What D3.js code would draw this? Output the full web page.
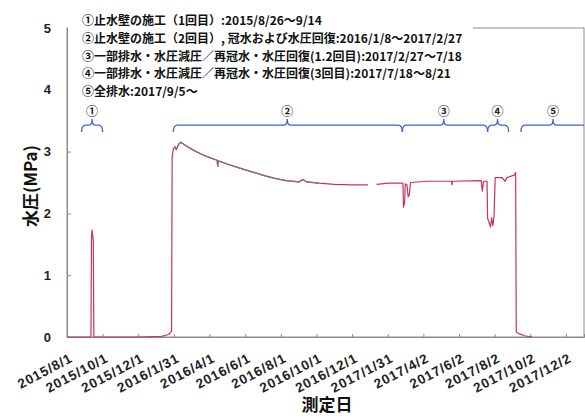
<!DOCTYPE html>
<html>
<head>
<meta charset="utf-8">
<script src="https://cdn.jsdelivr.net/npm/d3@7"></script>
<style>
  body { margin: 0; background: #fff; }
  text { font-family: "Liberation Sans", Arial, sans-serif; }
  .jp { font-family: "Noto Sans CJK JP", "Noto Sans", sans-serif; }
</style>
</head>
<body>
<svg id="chart" width="585" height="418"></svg>
<script>
// x-axis tick dates (61-day spacing)
const tickLabels = ["2015/8/1", "2015/10/1", "2015/12/1", "2016/1/31", "2016/4/1", "2016/6/1",
  "2016/8/1", "2016/10/1", "2016/12/1", "2017/1/31", "2017/4/2", "2017/6/2", "2017/8/2",
  "2017/10/2", "2017/12/2"];
const yTicks = [0, 1, 2, 3, 4, 5];

// water pressure record (MPa); null marks a gap in logging
const gaugeDates = ["2015/8/1", "2015/9/11", "2015/9/12", "2015/9/13", "2015/9/15", "2015/9/16",
  "2015/12/1", "2016/1/10", "2016/1/22", "2016/1/27", "2016/1/28", "2016/1/30", "2016/2/2",
  "2016/2/4", "2016/2/8", "2016/2/12", "2016/2/20", "2016/3/5", "2016/3/20", "2016/4/5",
  "2016/4/14", "2016/4/15", "2016/4/16", "2016/5/1", "2016/5/20", "2016/6/10", "2016/7/1",
  "2016/7/20", "2016/8/10", "2016/9/1", "2016/9/8", "2016/9/14", "2016/10/5", "2016/11/1",
  "2016/12/1", "2016/12/28", "2017/1/2", "2017/1/12", "2017/2/1", "2017/2/26", "2017/2/27",
  "2017/3/1", "2017/3/2", "2017/3/5", "2017/3/7", "2017/3/9", "2017/3/11", "2017/4/10",
  "2017/5/20", "2017/5/21", "2017/5/22", "2017/7/10", "2017/7/12", "2017/7/14", "2017/7/20",
  "2017/7/21", "2017/7/24", "2017/7/26", "2017/7/28", "2017/7/30", "2017/8/1", "2017/8/3",
  "2017/8/15", "2017/8/20", "2017/8/23", "2017/9/5", "2017/9/7", "2017/9/8", "2017/9/14",
  "2017/9/22", "2017/10/5"];
const gaugeValues = [0, 0, 1.62, 1.73, 1.56, 0,
  0, 0.01, 0.04, 0.09, 2.92, 3.04, 3.08,
  3.03, 3.12, 3.15, 3.10, 3.02, 2.95, 2.89,
  2.86, 2.76, 2.85, 2.80, 2.74, 2.68, 2.62,
  2.57, 2.53, 2.51, 2.55, 2.51, 2.49, 2.47,
  2.46, 2.46, null, 2.47, 2.49, 2.49, 2.10,
  2.18, 2.48, 2.46, 2.27, 2.30, 2.50, 2.52,
  2.52, 2.46, 2.52, 2.53, 2.36, 2.52, 2.52,
  1.92, 1.84, 1.78, 1.93, 1.80, 1.96, 2.58,
  2.58, 2.52, 2.58, 2.62, 2.66, 0.08, 0.05,
  0.02, 0];

// second logger, running alongside during 2016
const loggerDates = ["2016/2/2", "2016/2/4", "2016/2/8", "2016/2/12", "2016/2/20", "2016/3/5",
  "2016/3/20", "2016/4/5", "2016/4/14", "2016/4/15", "2016/4/16", "2016/5/1", "2016/5/20",
  "2016/6/10", "2016/7/1", "2016/7/20", "2016/8/10", "2016/9/1", "2016/9/8", "2016/9/14",
  "2016/10/5"];
const loggerValues = [3.08, 3.03, 3.12, 3.15, 3.10, 3.02,
  2.95, 2.89, 2.86, 2.76, 2.85, 2.80, 2.74,
  2.68, 2.62, 2.57, 2.53, 2.51, 2.55, 2.51,
  2.49];

// work periods shown as braces above the record
const periodNames = ["①", "②", "③", "④", "⑤"];
const periodStart = ["2015/8/26", "2016/1/30", "2017/2/25", "2017/7/21", "2017/9/16"];
const periodEnd   = ["2015/10/1", "2017/2/25", "2017/7/21", "2017/8/26", "2018/1/2"];
const periodMark  = ["2015/9/13", "2016/8/12", "2017/5/7", "2017/8/7", "2017/11/10"];

const legendLines = [
  "①止水壁の施工（1回目）:2015/8/26～9/14",
  "②止水壁の施工（2回目）, 冠水および水圧回復:2016/1/8～2017/2/27",
  "③一部排水・水圧減圧／再冠水・水圧回復(1.2回目):2017/2/27～7/18",
  "④一部排水・水圧減圧／再冠水・水圧回復(3回目):2017/7/18～8/21",
  "⑤全排水:2017/9/5～"
];

const parse = d3.timeParse("%Y/%m/%d");
const svg = d3.select("#chart");
const m = { left: 67, right: 584, top: 28, bottom: 337 };

const x = d3.scaleTime()
  .domain([parse("2015/8/1"), parse("2018/1/2")])
  .range([m.left, m.right]);
const y = d3.scaleLinear().domain([0, 5]).range([m.bottom, m.top]);

const frame = "#8c8c8c";

// plot frame
svg.append("rect")
  .attr("x", m.left).attr("y", m.top)
  .attr("width", m.right - m.left).attr("height", m.bottom - m.top)
  .attr("fill", "none").attr("stroke", frame).attr("stroke-width", 1);

// y axis
const yAxis = svg.append("g").attr("transform", `translate(${m.left},0)`)
  .call(d3.axisLeft(y).tickValues(yTicks).tickSize(-4).tickPadding(16).tickFormat(d3.format("d")));
yAxis.select(".domain").attr("stroke", frame);
yAxis.selectAll(".tick line").attr("stroke", frame);
yAxis.selectAll(".tick text").attr("font-size", 13).attr("font-weight", "bold").attr("fill", "#222")
  .attr("font-family", "Liberation Sans, Arial, sans-serif");

// x axis
const tickDates = tickLabels.map(parse);
const xAxis = svg.append("g").attr("transform", `translate(0,${m.bottom})`)
  .call(d3.axisBottom(x).tickValues(tickDates).tickSize(-3).tickFormat((d, i) => tickLabels[i]));
xAxis.select(".domain").attr("stroke", frame);
xAxis.selectAll(".tick line").attr("stroke", frame);
xAxis.selectAll(".tick text")
  .attr("font-size", 13.5).attr("font-weight", "bold").attr("fill", "#222")
  .attr("font-family", "Liberation Sans, Arial, sans-serif")
  .attr("letter-spacing", 0.9)
  .attr("text-anchor", "end")
  .attr("x", 0).attr("y", 0).attr("dy", 0)
  .attr("transform", "translate(6,24) rotate(-28)");

// pressure lines
const line = d3.line()
  .defined(d => d.v !== null)
  .x(d => x(d.t)).y(d => y(d.v));

const gauge = gaugeDates.map((d, i) => ({ t: parse(d), v: gaugeValues[i] }));
const logger = loggerDates.map((d, i) => ({ t: parse(d), v: loggerValues[i] }));

svg.append("path").datum(gauge)
  .attr("d", line).attr("fill", "none")
  .attr("stroke", "#cc3355").attr("stroke-width", 1.2).attr("stroke-linejoin", "round");
svg.append("path").datum(logger)
  .attr("d", line).attr("fill", "none")
  .attr("stroke", "#8a7070").attr("stroke-width", 1.2).attr("stroke-linejoin", "round");

// legend panel
svg.append("rect").attr("x", m.left + 1).attr("y", 8).attr("width", 405).attr("height", 90)
  .attr("fill", "#fff");
svg.append("g").selectAll("text").data(legendLines).join("text")
  .attr("class", "jp")
  .attr("x", 82).attr("y", (d, i) => 25 + i * 17.8)
  .attr("font-size", 12).attr("font-weight", "bold").attr("fill", "#111")
  .text(d => d);

// period braces
const braceY = y(3.43);
const braceColor = "#3f63d8";
const brace = svg.append("g");
periodNames.forEach((name, i) => {
  const x0 = x(parse(periodStart[i]));
  const x1 = Math.min(x(parse(periodEnd[i])), m.right);
  const xm = x(parse(periodMark[i]));
  const p = d3.path();
  p.moveTo(x0, braceY + 7);
  p.quadraticCurveTo(x0, braceY, x0 + 4, braceY);
  p.lineTo(xm - 3, braceY);
  p.quadraticCurveTo(xm, braceY, xm, braceY - 6);
  p.quadraticCurveTo(xm, braceY, xm + 3, braceY);
  if (periodEnd[i] === "2018/1/2") {
    p.lineTo(x1, braceY);
  } else {
    p.lineTo(x1 - 4, braceY);
    p.quadraticCurveTo(x1, braceY, x1, braceY + 7);
  }
  brace.append("path").attr("d", p.toString())
    .attr("fill", "none").attr("stroke", braceColor).attr("stroke-width", 1.3);
  brace.append("text").attr("class", "jp")
    .attr("x", xm).attr("y", braceY - 9)
    .attr("text-anchor", "middle").attr("font-size", 12).attr("font-weight", "bold")
    .attr("fill", "#222").text(name);
});

// axis titles
svg.append("text").attr("class", "jp")
  .attr("transform", `translate(37,186) rotate(-90)`)
  .attr("text-anchor", "middle").attr("font-size", 17).attr("font-weight", "bold")
  .attr("fill", "#111").text("水圧(MPa)");
svg.append("text").attr("class", "jp")
  .attr("x", 327).attr("y", 411)
  .attr("text-anchor", "middle").attr("font-size", 17).attr("font-weight", "bold")
  .attr("fill", "#111").text("測定日");
</script>
</body>
</html>
